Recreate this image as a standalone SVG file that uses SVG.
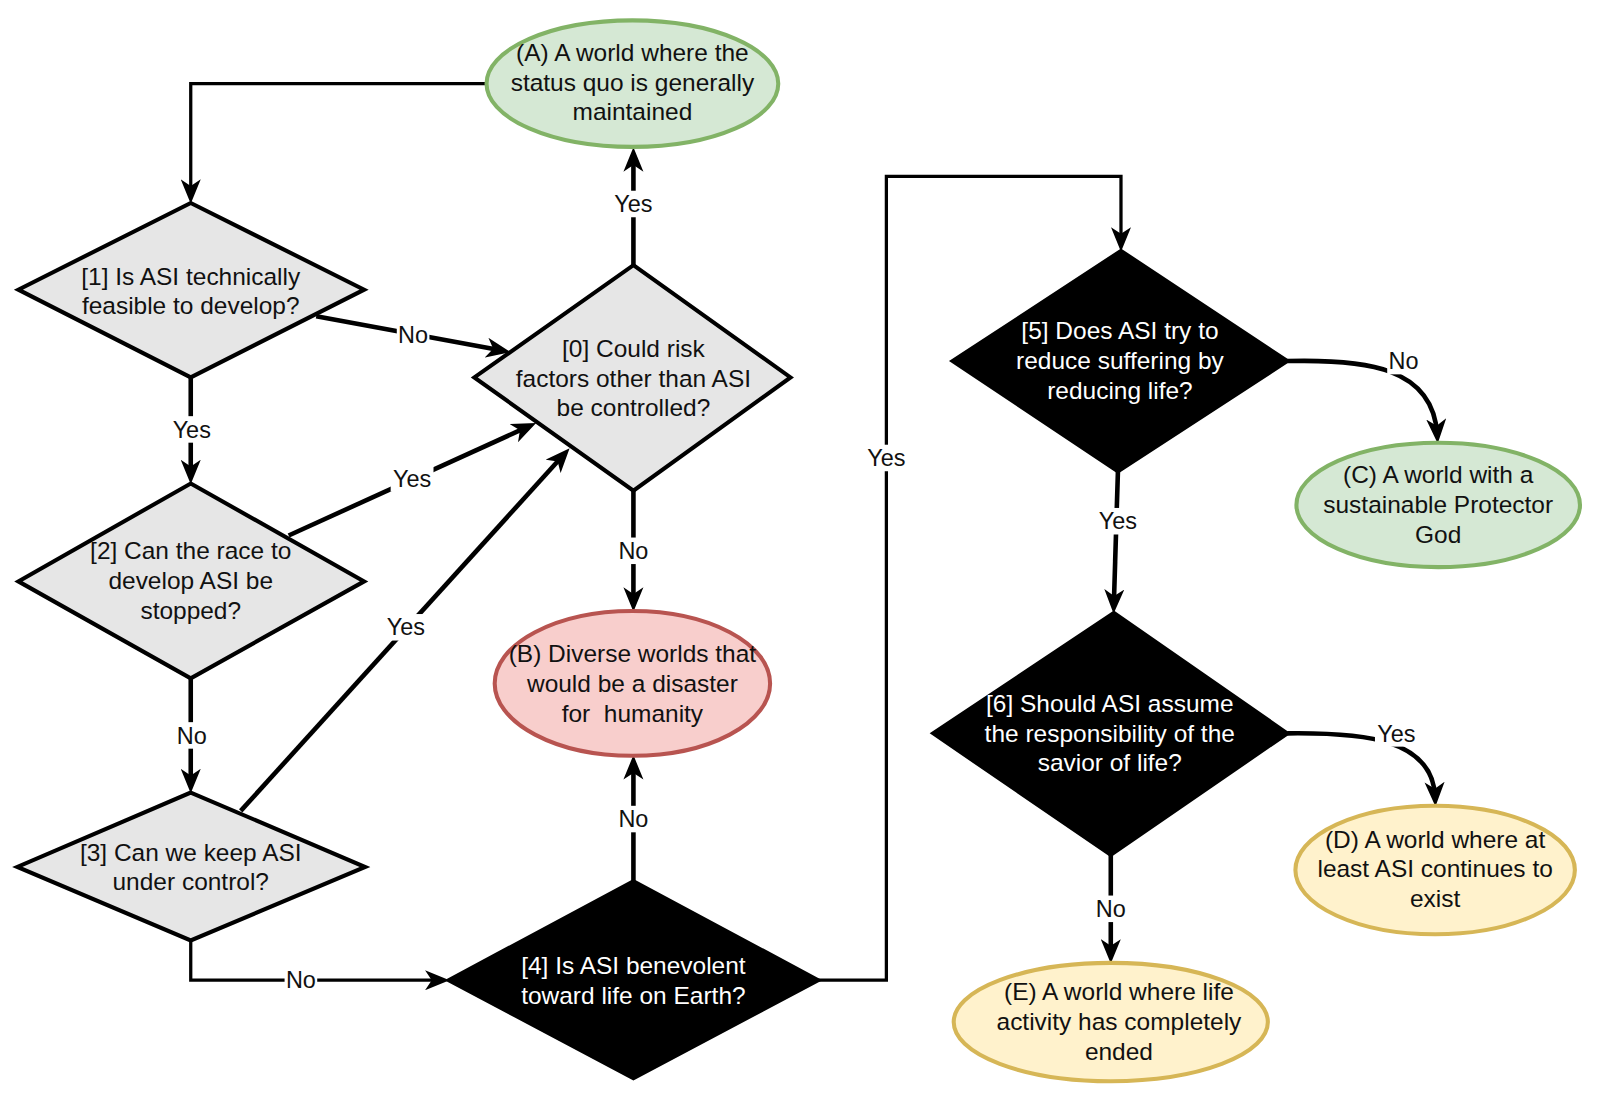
<svg xmlns="http://www.w3.org/2000/svg" width="1600" height="1101" viewBox="0 0 1600 1101">
<style>
text{font-family:"Liberation Sans",Arial,sans-serif;font-size:24px;text-anchor:middle;fill:#111}
.w text{fill:#fff}
.lbl{font-size:23px}
.gd{fill:#e6e6e6;stroke:#000;stroke-width:4;stroke-linejoin:miter}
.bd{fill:#000;stroke:#000;stroke-width:4}
.g{fill:#d5e8d4;stroke:#82b366;stroke-width:4}
.r{fill:#f8cecc;stroke:#b85450;stroke-width:4}
.y{fill:#fff2cc;stroke:#d6b656;stroke-width:4}
.c{fill:none;stroke:#000;stroke-width:4.5;marker-end:url(#ah)}
.t{fill:none;stroke:#000;stroke-width:3.2;marker-end:url(#ah)}
.bg{fill:#fff}
</style>
<defs>
<marker id="ah" markerUnits="userSpaceOnUse" markerWidth="24" markerHeight="20" viewBox="0 0 22 18" refX="14" refY="9" orient="auto">
<path d="M0,0 L22,9 L0,18 L6,9 Z" fill="#000"/>
</marker>
</defs>
<rect width="1600" height="1101" fill="#fff"/>
<g transform="scale(1.02)">
<g id="connectors">
<path class="t" d="M477,82 H187 V191"/>
<path class="c" d="M310,310 L492.1,343.6"/>
<path class="c" d="M187,370 V466"/>
<path class="c" d="M283,525 L517.7,418.3"/>
<path class="c" d="M187,665 V769"/>
<path class="c" d="M236,795 L552.6,445.9"/>
<path class="t" d="M187,922 V961 H432"/>
<path class="c" d="M621,260 V153"/>
<path class="c" d="M621,481 V591"/>
<path class="c" d="M621,864 V749"/>
<path class="t" d="M802,961 H869 V173 H1099 V238"/>
<path class="c" d="M1262,354 C1340,352 1405,360 1409,426"/>
<path class="c" d="M1096,462 L1092,593"/>
<path class="c" d="M1262,719 C1340,718 1405,725 1407,782"/>
<path class="c" d="M1089,838 V936"/>
<g id="labels">
<rect class="bg" x="389" y="315" width="32" height="26"/><text class="lbl" x="405" y="336">No</text>
<rect class="bg" x="167" y="408" width="42" height="26"/><text class="lbl" x="188" y="429">Yes</text>
<rect class="bg" x="383" y="456" width="42" height="26"/><text class="lbl" x="404" y="477">Yes</text>
<rect class="bg" x="172" y="708" width="32" height="26"/><text class="lbl" x="188" y="729">No</text>
<rect class="bg" x="377" y="602" width="42" height="26"/><text class="lbl" x="398" y="623">Yes</text>
<rect class="bg" x="279" y="948" width="32" height="26"/><text class="lbl" x="295" y="969">No</text>
<rect class="bg" x="600" y="187" width="42" height="26"/><text class="lbl" x="621" y="208">Yes</text>
<rect class="bg" x="605" y="527" width="32" height="26"/><text class="lbl" x="621" y="548">No</text>
<rect class="bg" x="605" y="790" width="32" height="26"/><text class="lbl" x="621" y="811">No</text>
<rect class="bg" x="848" y="436" width="42" height="26"/><text class="lbl" x="869" y="457">Yes</text>
<rect class="bg" x="1360" y="341" width="32" height="26"/><text class="lbl" x="1376" y="362">No</text>
<rect class="bg" x="1075" y="498" width="42" height="26"/><text class="lbl" x="1096" y="519">Yes</text>
<rect class="bg" x="1348" y="706" width="42" height="26"/><text class="lbl" x="1369" y="727">Yes</text>
<rect class="bg" x="1073" y="878" width="32" height="26"/><text class="lbl" x="1089" y="899">No</text>
</g>
</g>
<g id="nodeA"><ellipse class="g" cx="620" cy="82" rx="143" ry="62"/>
<text x="620" y="60">(A) A world where the</text><text x="620" y="89">status quo is generally</text><text x="620" y="118">maintained</text></g>
<g id="node1"><polygon class="gd" points="187,199 357,284 187,370 18,284"/>
<text x="187" y="279">[1] Is ASI technically</text><text x="187" y="308">feasible to develop?</text></g>
<g id="node0"><polygon class="gd" points="621,260 775,370 621,481 465,370"/>
<text x="621" y="350">[0] Could risk</text><text x="621" y="379">factors other than ASI</text><text x="621" y="408">be controlled?</text></g>
<g id="node2"><polygon class="gd" points="187,474 357,570 187,665 18,570"/>
<text x="187" y="548">[2] Can the race to</text><text x="187" y="577">develop ASI be</text><text x="187" y="607">stopped?</text></g>
<g id="node3"><polygon class="gd" points="187,777 358,850 187,922 17,850"/>
<text x="187" y="844">[3] Can we keep ASI</text><text x="187" y="873">under control?</text></g>
<g id="node4" class="w"><polygon class="bd" points="621,864 802,961 621,1057 440,961"/>
<text x="621" y="955">[4] Is ASI benevolent</text><text x="621" y="984">toward life on Earth?</text></g>
<g id="nodeB"><ellipse class="r" cx="620" cy="670" rx="135" ry="71"/>
<text x="620" y="649">(B) Diverse worlds that</text><text x="620" y="678">would be a disaster</text><text x="620" y="708">for&#160; humanity</text></g>
<g id="node5" class="w"><polygon class="bd" points="1099,246 1262,354 1096,462 934,354"/>
<text x="1098" y="332">[5] Does ASI try to</text><text x="1098" y="362">reduce suffering by</text><text x="1098" y="391">reducing life?</text></g>
<g id="node6" class="w"><polygon class="bd" points="1092,601 1262,719 1089,838 915,719"/>
<text x="1088" y="698">[6] Should ASI assume</text><text x="1088" y="727">the responsibility of the</text><text x="1088" y="756">savior of life?</text></g>
<g id="nodeC"><ellipse class="g" cx="1410" cy="495" rx="139" ry="61"/>
<text x="1410" y="474">(C) A world with a</text><text x="1410" y="503">sustainable Protector</text><text x="1410" y="532">God</text></g>
<g id="nodeD"><ellipse class="y" cx="1407" cy="853" rx="137" ry="63"/>
<text x="1407" y="831">(D) A world where at</text><text x="1407" y="860">least ASI continues to</text><text x="1407" y="889">exist</text></g>
<g id="nodeE"><ellipse class="y" cx="1089" cy="1002" rx="154" ry="58"/>
<text x="1097" y="980">(E) A world where life</text><text x="1097" y="1010">activity has completely</text><text x="1097" y="1039">ended</text></g>
</g>
</svg>
